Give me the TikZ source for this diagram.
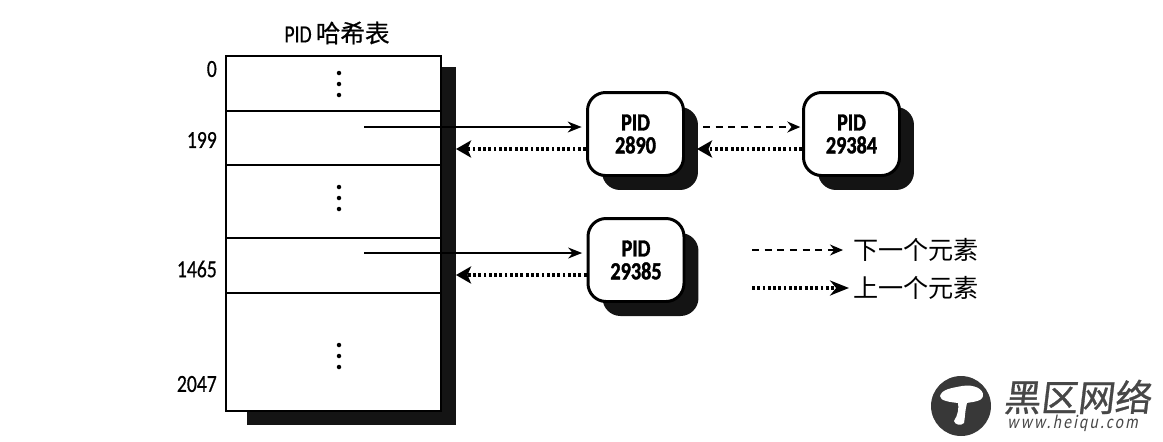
\documentclass[tikz,border=0pt]{standalone}
\usepackage{fontspec}
\setmainfont{Carlito}
\newfontfamily\cjk{Noto Sans CJK SC}
\newfontfamily\cjkmed[FakeBold=0.6]{Noto Sans CJK SC}
\newfontfamily\logocjk[FakeSlant=0.12,FakeBold=0.8]{Noto Sans CJK SC}
\newfontfamily\narrowfont[FakeStretch=0.8,FakeBold=0.5]{Carlito}
\newfontfamily\pidfont[FakeStretch=0.82,FakeBold=1.5]{Carlito Bold}
\newfontfamily\sitefont[FakeStretch=0.8,FakeSlant=0.2,LetterSpace=12]{Carlito}
\usetikzlibrary{arrows.meta,shadows}
\tikzset{
  pidbox/.style={draw,line width=1.7pt,fill=white,rounded corners=0.36cm,minimum width=1.92cm,minimum height=1.66cm,align=center,font=\pidfont\fontsize{14}{13}\selectfont,
    general shadow={shadow xshift=0.29cm,shadow yshift=-0.29cm,fill=black!92}},
  idxlabel/.style={anchor=east,font=\narrowfont\fontsize{14}{15}\selectfont},
  nextptr/.style={-{Stealth[length=0.26cm,width=0.22cm]},line width=0.7pt,dash pattern=on 4pt off 3.2pt},
  prevptr/.style={-{Stealth[length=0.3cm,width=0.34cm,inset=0.07cm]},line width=1.8pt,dash pattern=on 1.6pt off 1.4pt},
  headptr/.style={-{Stealth[length=0.28cm,width=0.22cm]},line width=0.9pt},
  legendtext/.style={anchor=west,font=\cjk\fontsize{14.3}{15}\selectfont},
}
\begin{document}
\begin{tikzpicture}[x=0.02cm,y=-0.02cm]
  \useasboundingbox (0,0) rectangle (1163,441);
  % hash table
  \fill[black!92] (247,67) rectangle (456,425);
  \node[draw,line width=0.8pt,fill=white,minimum width=4.3cm,minimum height=7.1cm] (tbl) at (333.5,233.5) {};
  \node[font=\narrowfont\fontsize{14}{15}\selectfont] (title) at (337,33) {PID\,{\cjkmed 哈希表}};
  \coordinate (r1) at (226,111);
  \coordinate (r2) at (226,165);
  \coordinate (r3) at (226,238);
  \coordinate (r4) at (226,293);
  \draw[line width=0.8pt] (r1) -- (r1 -| tbl.east);
  \draw[line width=0.8pt] (r2) -- (r2 -| tbl.east);
  \draw[line width=0.8pt] (r3) -- (r3 -| tbl.east);
  \draw[line width=0.8pt] (r4) -- (r4 -| tbl.east);
  \foreach \y in {73,84,95,187,198,209,345,356,367}
    \fill (339,\y) circle (0.045cm);
  \node[idxlabel] (i0) at (223,69) {0};
  \node[idxlabel] (i199) at (223,140) {199};
  \node[idxlabel] (i1465) at (223,269) {1465};
  \node[idxlabel] (i2047) at (223,384) {2047};
  % pid nodes
  \node[pidbox] (p2890) at (635.5,134) {PID\\2890};
  \node[pidbox] (p29384) at (851.5,134) {PID\\29384};
  \node[pidbox] (p29385) at (636,260) {PID\\29385};
  % chains
  \coordinate (h199) at (364,127);
  \coordinate (b199) at (456,149);
  \coordinate (h1465) at (364,253);
  \coordinate (b1465) at (456,275);
  \draw[headptr,shorten >=2.5pt] (h199) -- (h199 -| p2890.west);
  \draw[prevptr] (b199 -| p2890.west) -- (b199);
  \draw[headptr,shorten >=2.5pt] (h1465) -- (h1465 -| p29385.west);
  \draw[prevptr] (b1465 -| p29385.west) -- (b1465);
  \coordinate (s2890) at (703,127);
  \coordinate (t2890) at (697,149);
  \draw[nextptr,shorten >=1pt] (s2890) -- (s2890 -| p29384.west);
  \draw[prevptr] (t2890 -| p29384.west) -- (t2890);
  % legend
  \coordinate (lg1) at (752,250);
  \coordinate (lg2) at (752,288);
  \coordinate (lge1) at (843,250);
  \coordinate (lge2) at (849,288);
  \draw[nextptr] (lg1) -- (lge1);
  \draw[prevptr,-{Stealth[length=0.38cm,width=0.3cm]}] (lg2) -- (lge2);
  \node[legendtext] (txnext) at (847,250) {下一个元素};
  \node[legendtext] (txprev) at (847,288) {上一个元素};
  % watermark
  \fill[black!78] (961,406) circle (0.6cm);
  \fill[white] (940,396) .. controls (942,389) and (952,388) .. (962,386)
    .. controls (974,384) and (984,389) .. (983,396)
    .. controls (982,402) and (970,402) .. (967,403)
    .. controls (965,410) and (965,418) .. (964,423)
    .. controls (961,426) and (955,425) .. (954,421)
    .. controls (958,415) and (959,408) .. (958,403)
    .. controls (950,402) and (940,401) .. (940,396) -- cycle;
  \node[font=\logocjk\fontsize{21}{22}\selectfont,text=black!72,anchor=west,inner sep=0pt] (logo) at (1003,397) {黑区网络};
  \node[font=\sitefont\fontsize{11}{12}\selectfont,text=black!72,anchor=west,inner sep=0pt] (site) at (1007,423) {www.heiqu.com};
\end{tikzpicture}
\end{document}
